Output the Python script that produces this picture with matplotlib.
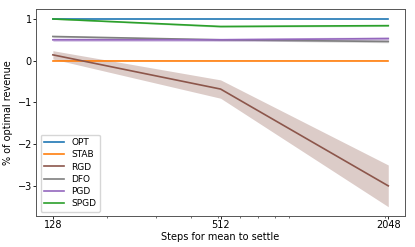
import matplotlib

matplotlib.use("Agg")
import matplotlib.pyplot as plt
from matplotlib.ticker import NullFormatter

# Steps for the mean to settle
STEPS = [128, 512, 2048]

# mean % of optimal revenue per method, with band half-width
OPT = [1.0, 1.0, 1.0]
OPT_ERR = [0.005, 0.005, 0.005]
STAB = [0.0, 0.0, 0.0]
STAB_ERR = [0.005, 0.005, 0.005]
RGD = [0.14, -0.68, -3.0]
RGD_ERR = [0.10, 0.22, 0.50]
DFO = [0.58, 0.50, 0.46]
DFO_ERR = [0.02, 0.02, 0.03]
PGD = [0.50, 0.50, 0.53]
PGD_ERR = [0.04, 0.04, 0.04]
SPGD = [1.0, 0.82, 0.84]
SPGD_ERR = [0.01, 0.02, 0.02]

SERIES = [
    ("OPT", OPT, OPT_ERR, "tab:blue"),
    ("STAB", STAB, STAB_ERR, "tab:orange"),
    ("RGD", RGD, RGD_ERR, "tab:brown"),
    ("DFO", DFO, DFO_ERR, "tab:gray"),
    ("PGD", PGD, PGD_ERR, "tab:purple"),
    ("SPGD", SPGD, SPGD_ERR, "tab:green"),
]


def main() -> None:
    plt.rcParams["font.size"] = 7
    fig, ax = plt.subplots(figsize=(4.15, 2.47), dpi=100)
    for name, mean, err, color in SERIES:
        ax.plot(STEPS, mean, color=color, label=name, linewidth=1.2)
        lo = [m - e for m, e in zip(mean, err)]
        hi = [m + e for m, e in zip(mean, err)]
        ax.fill_between(STEPS, lo, hi, color=color, alpha=0.3, linewidth=0)
    ax.set_xscale("log")
    ax.set_xticks(STEPS)
    ax.set_xticklabels([str(s) for s in STEPS])
    ax.xaxis.set_minor_formatter(NullFormatter())
    ax.tick_params(which="major", length=2, pad=1, width=0.6)
    ax.tick_params(which="minor", length=1.2, width=0.4)
    for spine in ax.spines.values():
        spine.set_linewidth(0.7)
        spine.set_color("#555555")
    ax.set_xlabel("Steps for mean to settle", labelpad=1)
    ax.set_ylabel("% of optimal revenue", labelpad=3)
    ax.legend(loc="lower left", fontsize=6.5, labelspacing=0.35, handlelength=2.2)
    fig.subplots_adjust(left=0.087, right=0.976, top=0.963, bottom=0.125)
    fig.savefig("out.png", dpi=100)


if __name__ == "__main__":
    main()
